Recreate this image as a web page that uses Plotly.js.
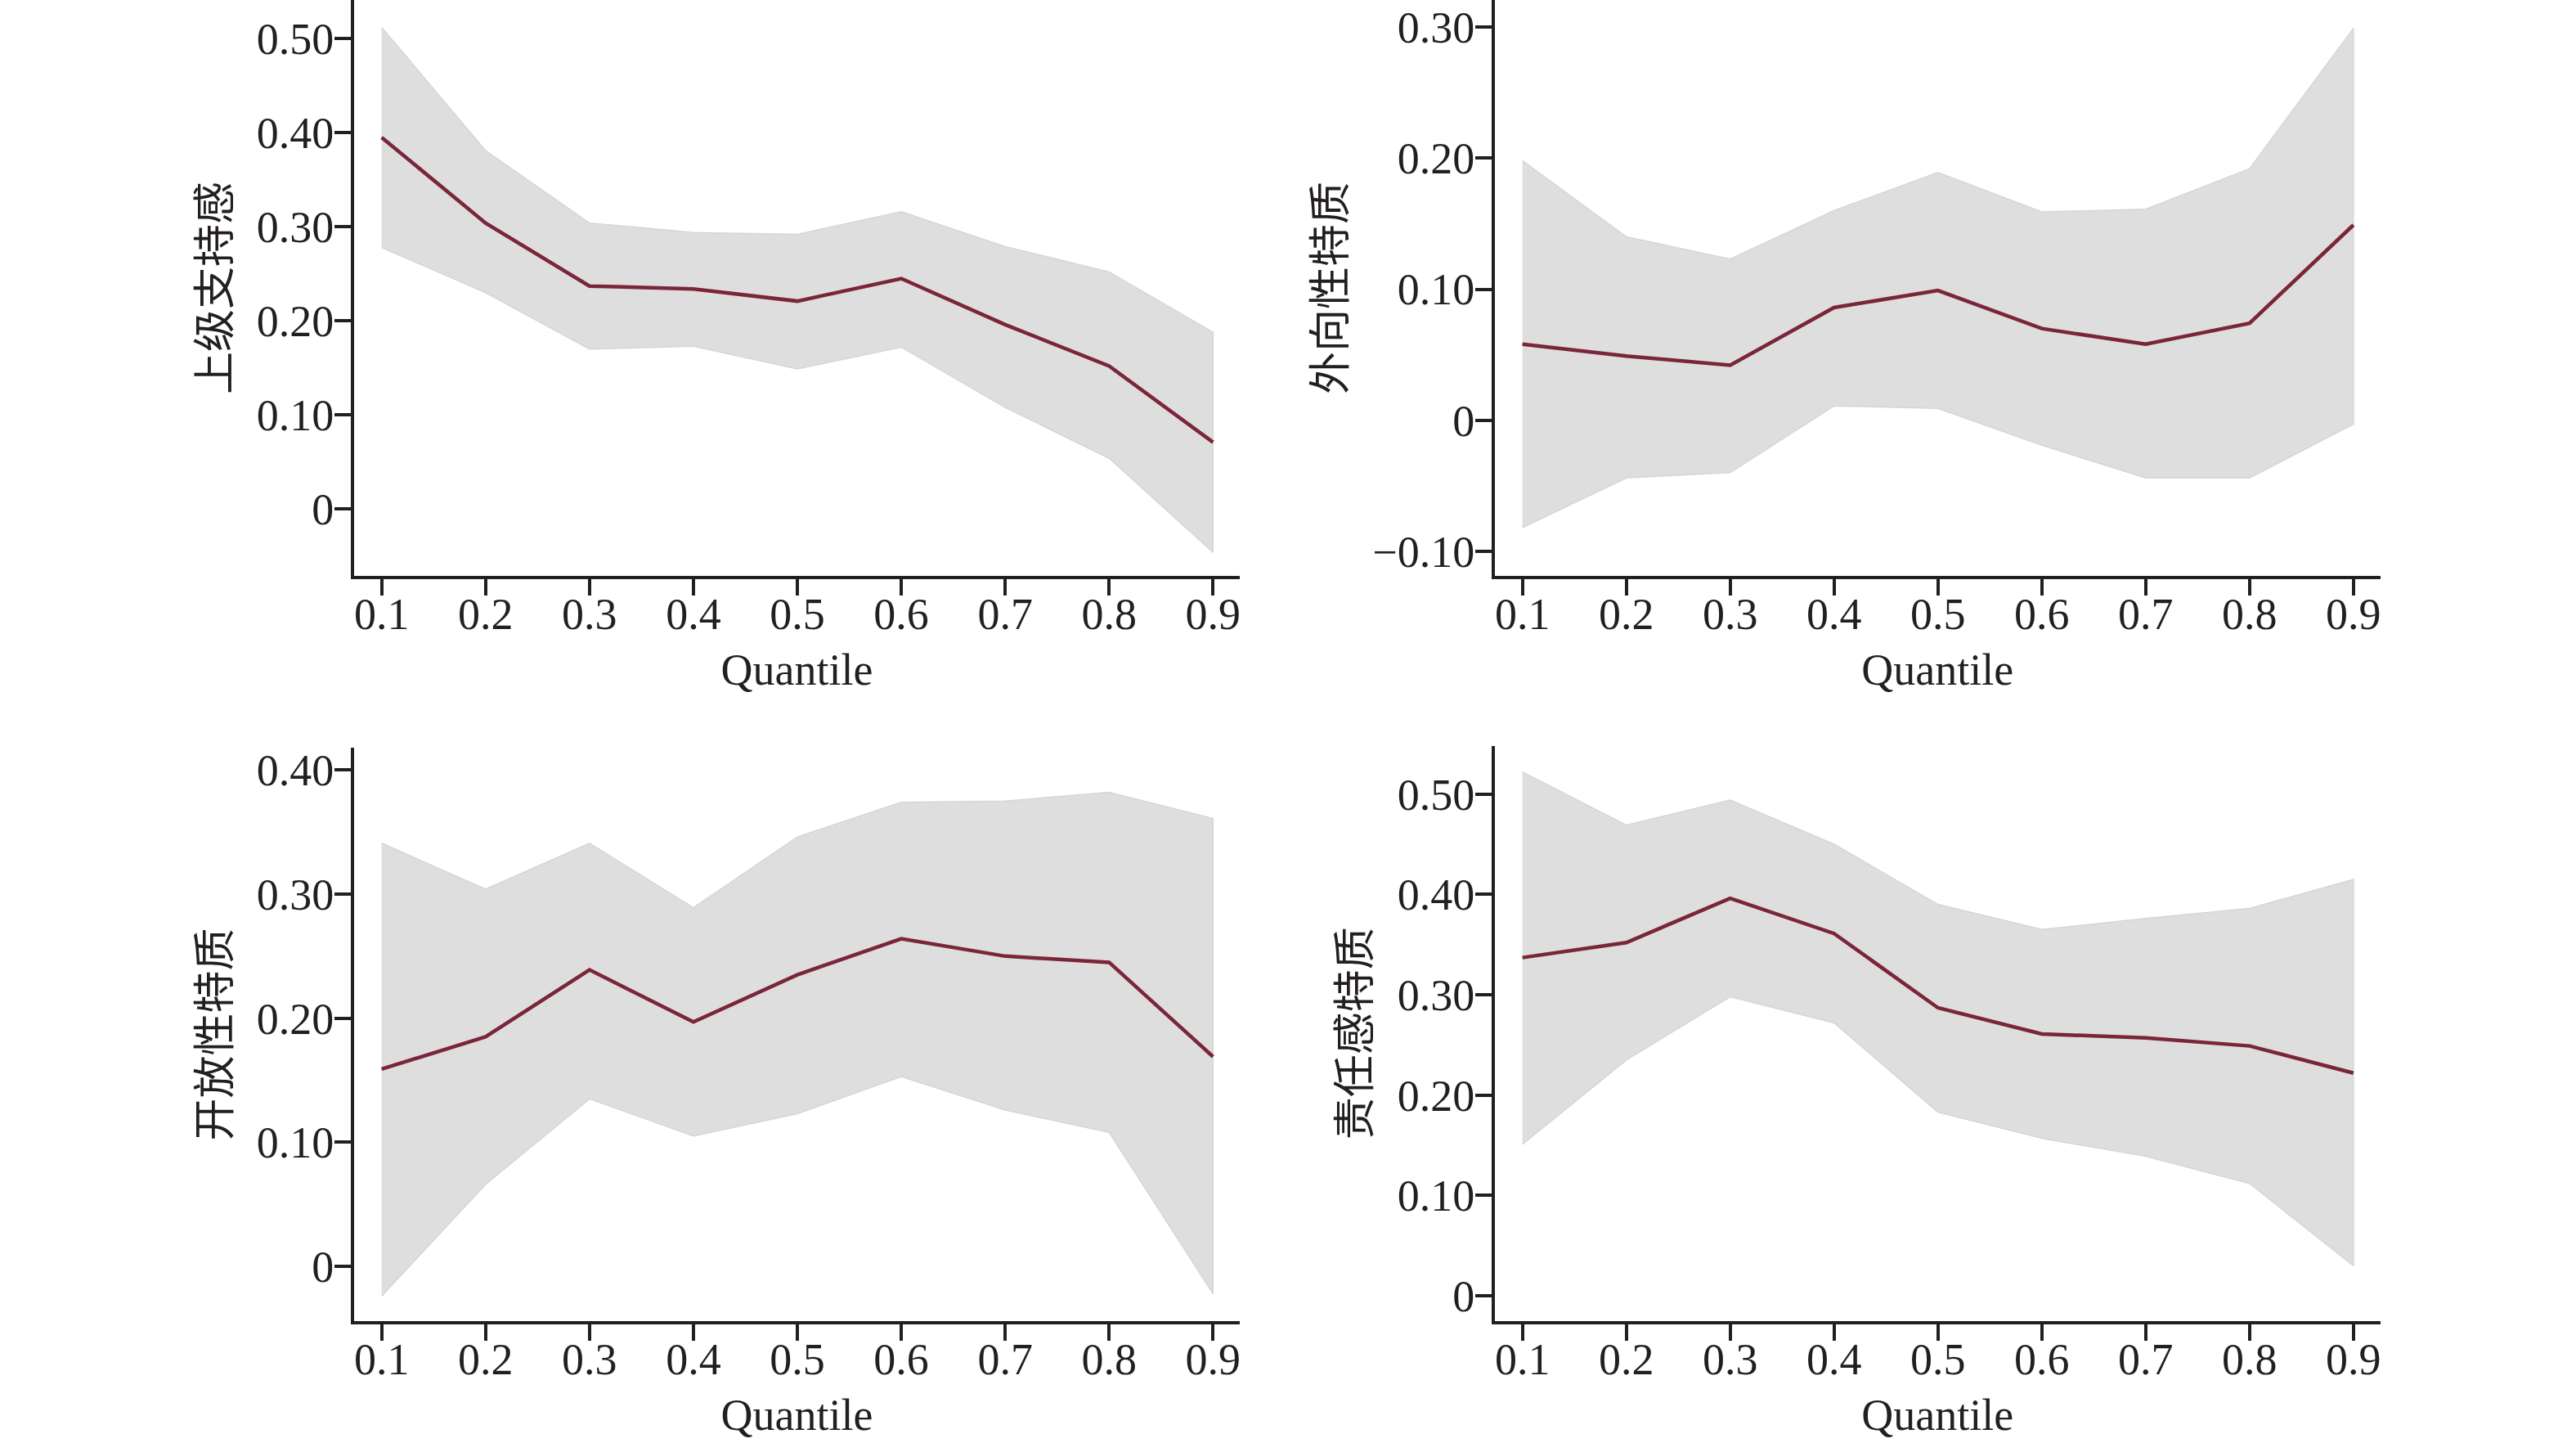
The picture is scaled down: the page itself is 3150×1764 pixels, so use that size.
<!DOCTYPE html>
<html>
<head>
<meta charset="utf-8">
<script src="https://cdn.plot.ly/plotly-3.0.1.min.js"></script>
<style>html,body{margin:0;padding:0;background:#fff;}#chart{width:3150px;height:1764px;}</style>
</head>
<body>
<div id="chart"></div>
<script>
const quantiles = [0.1, 0.2, 0.3, 0.4, 0.5, 0.6, 0.7, 0.8, 0.9];
const quantileLabels = ["0.1", "0.2", "0.3", "0.4", "0.5", "0.6", "0.7", "0.8", "0.9"];

const supCoef  = [0.395, 0.304, 0.237, 0.234, 0.221, 0.245, 0.196, 0.152, 0.071];
const supUpper = [0.512, 0.381, 0.304, 0.294, 0.292, 0.316, 0.279, 0.252, 0.188];
const supLower = [0.278, 0.230, 0.170, 0.173, 0.149, 0.172, 0.108, 0.054, -0.046];

const extCoef  = [0.058, 0.049, 0.042, 0.086, 0.099, 0.070, 0.058, 0.074, 0.149];
const extUpper = [0.198, 0.140, 0.123, 0.160, 0.189, 0.159, 0.161, 0.192, 0.299];
const extLower = [-0.082, -0.044, -0.040, 0.011, 0.009, -0.019, -0.044, -0.044, -0.003];

const openCoef  = [0.159, 0.185, 0.239, 0.197, 0.235, 0.264, 0.250, 0.245, 0.169];
const openUpper = [0.341, 0.304, 0.341, 0.289, 0.346, 0.374, 0.375, 0.382, 0.361];
const openLower = [-0.024, 0.066, 0.135, 0.105, 0.123, 0.153, 0.126, 0.108, -0.022];

const consCoef  = [0.337, 0.352, 0.396, 0.361, 0.287, 0.261, 0.257, 0.249, 0.222];
const consUpper = [0.522, 0.469, 0.494, 0.450, 0.390, 0.365, 0.376, 0.386, 0.415];
const consLower = [0.151, 0.235, 0.298, 0.272, 0.183, 0.157, 0.139, 0.112, 0.030];

const panelTitles = ["上级支持感", "外向性特质", "开放性特质", "责任感特质"];

const yTickVals1 = [0, 0.1, 0.2, 0.3, 0.4, 0.5];
const yTickText1 = ["0", "0.10", "0.20", "0.30", "0.40", "0.50"];
const yTickVals2 = [-0.1, 0, 0.1, 0.2, 0.3];
const yTickText2 = ["\u22120.10", "0", "0.10", "0.20", "0.30"];
const yTickVals3 = [0, 0.1, 0.2, 0.3, 0.4];
const yTickText3 = ["0", "0.10", "0.20", "0.30", "0.40"];
const yTickVals4 = [0, 0.1, 0.2, 0.3, 0.4, 0.5];
const yTickText4 = ["0", "0.10", "0.20", "0.30", "0.40", "0.50"];

const panels = [
  {coef: supCoef, up: supUpper, lo: supLower, tv: yTickVals1, tt: yTickText1, range: [-0.071, 0.541]},
  {coef: extCoef, up: extUpper, lo: extLower, tv: yTickVals2, tt: yTickText2, range: [-0.1187, 0.3206]},
  {coef: openCoef, up: openUpper, lo: openLower, tv: yTickVals3, tt: yTickText3, range: [-0.0441, 0.418]},
  {coef: consCoef, up: consUpper, lo: consLower, tv: yTickVals4, tt: yTickText4, range: [-0.0251, 0.548]}
];

const W = 3150, H = 1764;
const xDom = [[433/W, 1516/W], [1828/W, 2910.5/W], [433/W, 1516/W], [1828/W, 2910.5/W]];
const yDom = [[(H-704)/H, 1], [(H-704)/H, 1], [(H-1615)/H, (H-914)/H], [(H-1615)/H, (H-911.7)/H]];

const numFont = "Liberation Serif, Times New Roman, serif";
const cjkFont = "Noto Sans CJK SC, sans-serif";
const ink = "#231f20";

const traces = [];
const layout = {
  width: W, height: H,
  margin: {l: 0, r: 0, t: 0, b: 0},
  paper_bgcolor: "#ffffff", plot_bgcolor: "#ffffff",
  showlegend: false
};

panels.forEach((p, i) => {
  const n = i + 1;
  const xa = n === 1 ? "x" : "x" + n;
  const ya = n === 1 ? "y" : "y" + n;
  traces.push({
    x: quantiles.concat(quantiles.slice().reverse()),
    y: p.up.concat(p.lo.slice().reverse()),
    xaxis: xa, yaxis: ya,
    type: "scatter", mode: "lines",
    fill: "toself", fillcolor: "#dedede",
    line: {color: "#d6d6d6", width: 1.5},
    hoverinfo: "skip"
  });
  traces.push({
    x: quantiles, y: p.coef,
    xaxis: xa, yaxis: ya,
    type: "scatter", mode: "lines",
    line: {color: "#7a2638", width: 4.5}
  });
  const axCommon = {
    showline: true, linecolor: ink, linewidth: 4,
    ticks: "outside", ticklen: 20, tickwidth: 4, tickcolor: ink,
    showgrid: false, zeroline: false, automargin: false,
    tickfont: {family: numFont, size: 54, color: ink}
  };
  layout["xaxis" + (n === 1 ? "" : n)] = Object.assign({}, axCommon, {
    domain: xDom[i], anchor: ya, range: [0.0735, 0.9257],
    tickmode: "array", tickvals: quantiles, ticktext: quantileLabels,
    ticklabelstandoff: -24,
    title: {text: "Quantile", font: {family: numFont, size: 54, color: ink}, standoff: 20}
  });
  layout["yaxis" + (n === 1 ? "" : n)] = Object.assign({}, axCommon, {
    domain: yDom[i], anchor: xa, range: p.range,
    tickmode: "array", tickvals: p.tv, ticktext: p.tt,
    ticklabelstandoff: -10,
    title: {text: panelTitles[i], font: {family: cjkFont, size: 52, color: ink}, standoff: 17}
  });
});

Plotly.newPlot("chart", traces, layout, {staticPlot: true, displayModeBar: false});
</script>
</body>
</html>
